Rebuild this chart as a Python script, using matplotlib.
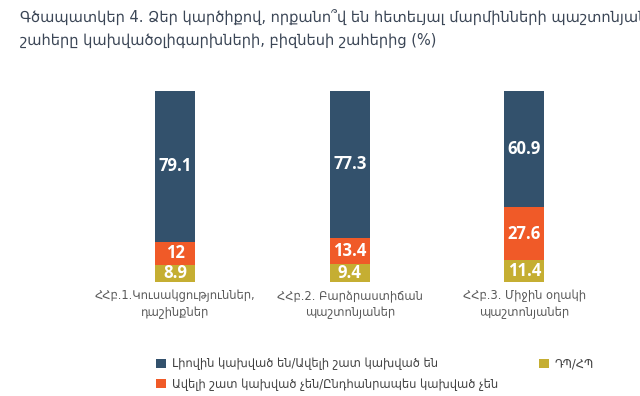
import matplotlib
matplotlib.use("Agg")
import matplotlib.pyplot as plt
import numpy as np

plt.rcParams['font.family'] = ['DejaVu Sans']

categories = ["ՀՀբ.1.Կուսակցություններ,\nդաշինքներ",
              "ՀՀբ.2. Բարձրաստիճան\nպաշտոնյաներ",
              "ՀՀբ.3. Միջին օղակի\nպաշտոնյաներ"]
dk_nk = [8.9, 9.4, 11.4]
not_dep = [12, 13.4, 27.6]
dep = [79.1, 77.3, 60.9]
series_names = ["Լիովին կախված են/Ավելի շատ կախված են",
                "Ավելի շատ կախված չեն/Ընդհանրապես կախված չեն",
                "ԴՊ/ՀՊ"]
title = ("Գծապատկեր 4. Ձեր կարծիքով, որքանո՞վ են հետեւյալ մարմինների պաշտոնյաների\n"
         "շահերը կախվածօլիգարխների, բիզնեսի շահերից (%)")

c_navy = "#33516c"
c_orange = "#f05a28"
c_gold = "#c5ae32"

fig = plt.figure(figsize=(6.4, 3.96), dpi=100)
ax = fig.add_axes([0.137, 0.288, 0.819, 0.483])

x = np.arange(len(categories))
w = 0.229
b1 = ax.bar(x, dk_nk, w, color=c_gold)
b2 = ax.bar(x, not_dep, w, bottom=dk_nk, color=c_orange)
bottom3 = np.array(dk_nk) + np.array(not_dep)
b3 = ax.bar(x, dep, w, bottom=bottom3, color=c_navy)

for bars, vals, bots in [(b1, dk_nk, np.zeros(3)), (b2, not_dep, dk_nk), (b3, dep, bottom3)]:
    for xi, v, b in zip(x, vals, bots):
        ax.text(xi, b + v / 2, f"{v:g}", ha="center", va="center",
                color="white", fontsize=12, fontweight="bold",
                family=["Open Sans", "DejaVu Sans"])

ax.set_xlim(-0.5, 2.5)
ax.set_ylim(0, 100)
ax.set_xticks(x)
ax.set_xticklabels(categories, fontsize=8.3, color="#595959", linespacing=1.45)
ax.tick_params(axis="x", length=0, pad=5)
ax.set_yticks([])
for s in ax.spines.values():
    s.set_visible(False)

fig.text(20 / 640, 1 - 10 / 396, title, ha="left", va="top", fontsize=10.5,
         color="#3b4656", linespacing=1.55)

leg1 = fig.legend([b3, b2], series_names[:2], loc="upper left",
                  bbox_to_anchor=(146 / 640, 1 - 347 / 396), frameon=False,
                  fontsize=8.3, handlelength=0.85, handleheight=0.85,
                  handletextpad=0.5, labelspacing=0.65, labelcolor="#404040")
leg2 = fig.legend([b1], series_names[2:], loc="upper left",
                  bbox_to_anchor=(529 / 640, 1 - 347 / 396), frameon=False,
                  fontsize=8.3, handlelength=0.85, handleheight=0.85,
                  handletextpad=0.5, labelcolor="#404040")

fig.savefig("out.png", dpi=100)
